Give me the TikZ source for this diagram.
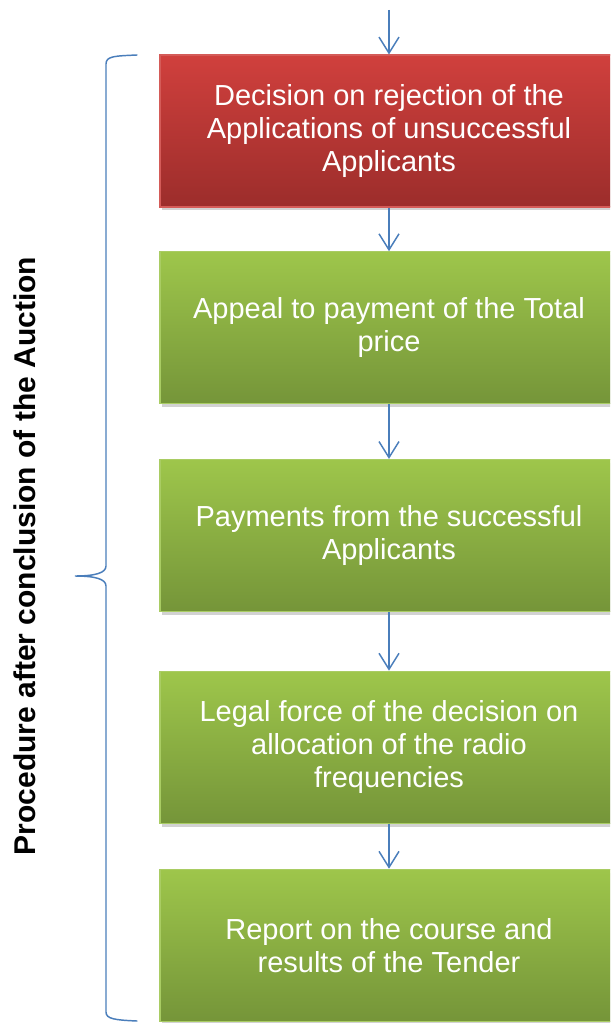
\documentclass[tikz,border=0pt]{standalone}
\usepackage{fontspec}
\setmainfont{Liberation Sans}
\usetikzlibrary{arrows.meta,positioning,shadows}
\definecolor{redtop}{HTML}{D0403D}
\definecolor{redbottom}{HTML}{9C2D2B}
\definecolor{redline}{HTML}{D45B58}
\definecolor{greentop}{HTML}{9EC64B}
\definecolor{greenbottom}{HTML}{759539}
\definecolor{greenline}{HTML}{A9CC63}
\definecolor{flowblue}{HTML}{4A7EBB}
\tikzset{
    %Define standard arrow tip
    >={Straight Barb[length=12pt,width=15pt]},
    %Define style for boxes
    stage/.style={
           rectangle,
           line width=0.8pt,
           minimum width=343.5pt,
           minimum height=114pt,
           text=white,
           align=center,
           font=\fontsize{21.75}{24.75}\selectfont,
           drop shadow={opacity=0.35,shadow xshift=1.5pt,shadow yshift=-2.5pt}},
    rejectbox/.style={
           stage,
           draw=redline,
           top color=redtop,
           bottom color=redbottom},
    passbox/.style={
           stage,
           draw=greenline,
           top color=greentop,
           bottom color=greenbottom},
    % Define arrow style
    flow/.style={
           ->,
           line width=1.1pt,
           draw=flowblue},
    % Define brace style
    brace/.style={
           line width=1.1pt,
           draw=flowblue,
           line cap=round}
}

\begin{document}
\begin{tikzpicture}[x=0.75pt,y=-0.75pt]
  \clip (0,0) rectangle (610,1023);
  \fill[white] (0,0) rectangle (610,1023);
  % steps of the procedure
  \node[rejectbox] (reject) at (389,131) {Decision on rejection of the\\Applications of unsuccessful\\Applicants};
  \node[passbox,below=32.75pt of reject] (appeal) {Appeal to payment of the Total\\price};
  \node[passbox,below=41pt of appeal] (payment) {Payments from the successful\\Applicants};
  \node[passbox,below=44pt of payment] (legal) {Legal force of the decision on\\allocation of the radio\\frequencies};
  \node[passbox,below=33.75pt of legal] (report) {Report on the course and\\results of the Tender};
  % connectors
  \coordinate (entry) at (389,10);
  \draw[flow] (entry) -- (reject);
  \draw[flow] (reject) -- (appeal);
  \draw[flow] (appeal) -- (payment);
  \draw[flow] (payment) -- (legal);
  \draw[flow] (legal) -- (report);
  % brace and its label
  \draw[brace] (137,55) .. controls (115,56) and (106,56) .. (106,64)
    -- (106,566) .. controls (106,573) and (95,576) .. (75,576)
    .. controls (95,576) and (106,579) .. (106,586)
    -- (106,1012) .. controls (106,1019) and (115,1020) .. (137,1021);
  \node[rotate=90,font=\fontsize{22.5}{27}\selectfont\bfseries] (phase) at (25,556) {Procedure after conclusion of the Auction};
\end{tikzpicture}
\end{document}
